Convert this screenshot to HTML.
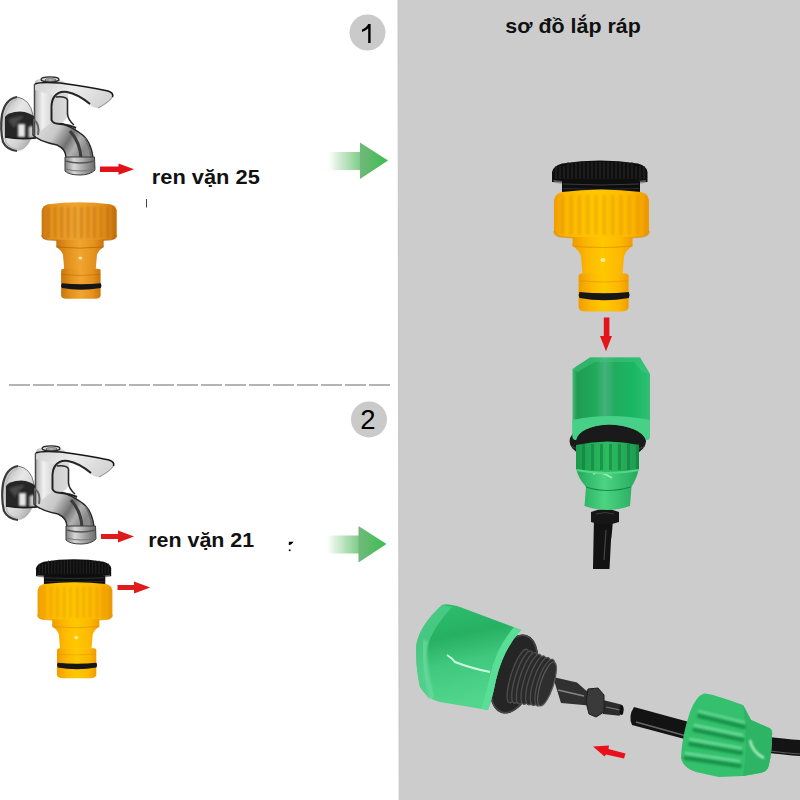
<!DOCTYPE html>
<html><head><meta charset="utf-8">
<style>
html,body{margin:0;padding:0;width:800px;height:800px;overflow:hidden;background:#fff;}
svg{position:absolute;left:0;top:0;display:block;}
text{font-family:"Liberation Sans",sans-serif;}
</style></head>
<body>
<svg width="800" height="800" viewBox="0 0 800 800">
<defs>
  <linearGradient id="gshaft" x1="0" y1="0" x2="1" y2="0">
    <stop offset="0" stop-color="#ffffff" stop-opacity="0"/>
    <stop offset="0.25" stop-color="#e4f3e4"/>
    <stop offset="1" stop-color="#7ccb86"/>
  </linearGradient>
  <linearGradient id="ghead" x1="0" y1="0" x2="1" y2="0">
    <stop offset="0" stop-color="#72b87c"/>
    <stop offset="1" stop-color="#3bbf4e"/>
  </linearGradient>
  <linearGradient id="chromeFl" x1="0" y1="0" x2="1" y2="1">
    <stop offset="0" stop-color="#a8a8a8"/><stop offset="0.4" stop-color="#e8e8e8"/><stop offset="0.7" stop-color="#d0d0d0"/><stop offset="1" stop-color="#8c8c8c"/>
  </linearGradient>
  <linearGradient id="chromePipe" x1="0" y1="0" x2="0" y2="1">
    <stop offset="0" stop-color="#1c1c1c"/><stop offset="0.45" stop-color="#3a3a3a"/><stop offset="0.62" stop-color="#b9b9b9"/><stop offset="0.85" stop-color="#5a5a5a"/><stop offset="1" stop-color="#2a2a2a"/>
  </linearGradient>
  <linearGradient id="chromeSp" x1="0" y1="0" x2="1" y2="0.4">
    <stop offset="0" stop-color="#e4e4e4"/><stop offset="0.45" stop-color="#c8c8c8"/><stop offset="0.7" stop-color="#707070"/><stop offset="0.85" stop-color="#b0b0b0"/><stop offset="1" stop-color="#8a8a8a"/>
  </linearGradient>
  <linearGradient id="chromeSt" x1="0" y1="0" x2="1" y2="0">
    <stop offset="0" stop-color="#b0b0b0"/><stop offset="0.25" stop-color="#f0f0f0"/><stop offset="0.6" stop-color="#d0d0d0"/><stop offset="1" stop-color="#dcdcdc"/>
  </linearGradient>
  <linearGradient id="chromeHd" x1="0" y1="0" x2="1" y2="0.3">
    <stop offset="0" stop-color="#d0d0d0"/><stop offset="0.5" stop-color="#ededed"/><stop offset="1" stop-color="#d6d6d6"/>
  </linearGradient>
  <linearGradient id="chromeNz" x1="0" y1="0" x2="1" y2="0">
    <stop offset="0" stop-color="#808080"/><stop offset="0.3" stop-color="#d8d8d8"/><stop offset="0.6" stop-color="#a8a8a8"/><stop offset="1" stop-color="#6a6a6a"/>
  </linearGradient>
  <filter id="b1" x="-20%" y="-20%" width="140%" height="140%"><feGaussianBlur stdDeviation="1.2"/></filter>
  <filter id="soft" x="-5%" y="-5%" width="110%" height="110%"><feGaussianBlur stdDeviation="0.45"/></filter>
  
  <linearGradient id="yanut" x1="0" y1="0" x2="1" y2="0">
    <stop offset="0" stop-color="#f09c00"/><stop offset="0.12" stop-color="#fdb800"/><stop offset="0.45" stop-color="#ffc800"/><stop offset="0.8" stop-color="#fdb800"/><stop offset="1" stop-color="#f09c00"/>
  </linearGradient>
  <linearGradient id="yaneck" x1="0" y1="0" x2="1" y2="0">
    <stop offset="0" stop-color="#f09c00"/><stop offset="0.25" stop-color="#fdb800"/><stop offset="0.5" stop-color="#ffc800"/><stop offset="0.8" stop-color="#fdb800"/><stop offset="1" stop-color="#f09c00"/>
  </linearGradient>

  <linearGradient id="oanut" x1="0" y1="0" x2="1" y2="0">
    <stop offset="0" stop-color="#c87410"/><stop offset="0.12" stop-color="#e4921c"/><stop offset="0.45" stop-color="#f0a530"/><stop offset="0.8" stop-color="#e4921c"/><stop offset="1" stop-color="#c87410"/>
  </linearGradient>
  <linearGradient id="oaneck" x1="0" y1="0" x2="1" y2="0">
    <stop offset="0" stop-color="#c87410"/><stop offset="0.25" stop-color="#e4921c"/><stop offset="0.5" stop-color="#f0a530"/><stop offset="0.8" stop-color="#e4921c"/><stop offset="1" stop-color="#c87410"/>
  </linearGradient>

  <linearGradient id="gbody" x1="0" y1="0" x2="1" y2="0">
    <stop offset="0" stop-color="#48b878"/><stop offset="0.06" stop-color="#1e9c52"/><stop offset="0.3" stop-color="#22aa5a"/><stop offset="0.42" stop-color="#44b27c"/><stop offset="0.55" stop-color="#20ac5e"/><stop offset="0.8" stop-color="#1ab864"/><stop offset="1" stop-color="#30c074"/>
  </linearGradient>
  <linearGradient id="gcone" x1="0" y1="0" x2="1" y2="0">
    <stop offset="0" stop-color="#22a85a"/><stop offset="0.45" stop-color="#4cd482"/><stop offset="1" stop-color="#24a85c"/>
  </linearGradient>
  <linearGradient id="gcol" x1="0" y1="0" x2="1" y2="0">
    <stop offset="0" stop-color="#1a9a4c"/><stop offset="0.5" stop-color="#2cbc62"/><stop offset="1" stop-color="#1c9a50"/>
  </linearGradient>

  <linearGradient id="gbig" x1="0" y1="0" x2="0.2" y2="1">
    <stop offset="0" stop-color="#30c070"/><stop offset="0.35" stop-color="#26b062"/><stop offset="0.6" stop-color="#40c87e"/><stop offset="1" stop-color="#52d68e"/>
  </linearGradient>
  <linearGradient id="thr" x1="0" y1="0" x2="0" y2="1">
    <stop offset="0" stop-color="#3a3a3a"/><stop offset="0.5" stop-color="#262626"/><stop offset="1" stop-color="#2e2e2e"/>
  </linearGradient>

</defs>

<path d="M398 0 L800 0 L800 800 L399.2 800 Z" fill="#cccccc"/>
<path d="M398 0 L399.2 800" stroke="#c4c4c4" stroke-width="1"/>
<line x1="9" y1="385" x2="393" y2="385" stroke="#9c9c9c" stroke-width="1.5" stroke-dasharray="21 3"/>
<circle cx="367.5" cy="32.5" r="18" fill="#cacaca"/>
<path d="M368.2 24 L370.6 24 L370.6 43 L368.2 43 L368.2 28.2 Q366 30.8 362 32 L362 29.4 Q366.5 27.8 368.2 24 Z" fill="#000"/>
<circle cx="369" cy="419.4" r="18" fill="#cacaca"/>
<text x="367.8" y="429" font-size="27.5" text-anchor="middle" fill="#000">2</text>
<text x="505.3" y="33" font-size="20.5" font-weight="bold" fill="#111" textLength="135.5" lengthAdjust="spacingAndGlyphs">sơ đồ lắp ráp</text>
<text x="151.8" y="184" font-size="21" font-weight="bold" fill="#111" textLength="108" lengthAdjust="spacingAndGlyphs">ren vặn 25</text>
<line x1="146.5" y1="199" x2="146.5" y2="207.5" stroke="#444" stroke-width="1"/>
<path d="M288.8 541.8 L293.6 541.8 Q292 544 290 545 L288.8 545 Z" fill="#000"/>
<circle cx="289.7" cy="550.2" r="1" fill="#111"/>
<text x="148.2" y="547" font-size="21" font-weight="bold" fill="#111" textLength="106" lengthAdjust="spacingAndGlyphs">ren vặn 21</text>

<g id="faucet" filter="url(#soft)">
  <ellipse cx="17" cy="124" rx="17" ry="27" fill="url(#chromeFl)"/>
  <path d="M17 97 Q5 99 2 115 Q0 130 3 142 Q7 150 17 151" stroke="#3a3a3a" stroke-width="2.2" fill="none"/>
  <path d="M17 99.5 Q8 102 5 115 Q3 130 6 142 Q9 148 17 149" stroke="#bdbdbd" stroke-width="1.5" fill="none"/>
  <path d="M17 97 Q30 99 33 115" stroke="#777" stroke-width="1" fill="none"/>
  <path d="M5 117 Q8 112 20 111.5 Q30 112 36 118 L36 138 Q20 140 5 137 Z" fill="#262626"/>
  <path d="M8 120 Q14 116 24 116 Q18 121 14 128 Z" fill="#4a4a4a" filter="url(#b1)"/>
  <path d="M18 124 L25 124 L25 137 L18 137 Z" fill="#e6e6e6" filter="url(#b1)"/>
  <path d="M28.5 127 L35 125 L35 137.5 L28.5 138 Z" fill="#c9c9c9" filter="url(#b1)"/>
  <path d="M5 137 Q20 140 36 138" stroke="#1e1e1e" stroke-width="1.5" fill="none"/>
  <path d="M33 118 L33 135 Q38 141 57 145 Q66 149 66 158 L93 158 Q91 140 80 133 Q70 126 60 123 L52 120 Z" fill="url(#chromeSp)" stroke="#262626" stroke-width="1.4"/>
  <path d="M70 131 Q80 142 81 158" stroke="#3a3a3a" stroke-width="3" fill="none"/>
  <path d="M85 138 Q90 148 91 158" stroke="#6a6a6a" stroke-width="1.5" fill="none"/>
  <path d="M34.5 84 Q35 79 41 79 L56 79 Q62 80 68 84 L68 114 Q67 121 60 123 L52 122 L34 136 Z" fill="url(#chromeSt)"/>
  <path d="M34.5 84 L34.5 136" stroke="#4a4a4a" stroke-width="1.5" fill="none"/>
  <path d="M34 120 Q40 124 38 135" stroke="#666" stroke-width="2" fill="none"/>
  <path d="M55 96 Q51 100 51.5 110 L51.5 120 Q53 124 60 124 Q70 125 76 128" stroke="#222" stroke-width="2" fill="none"/>
  <path d="M56 97 Q66 96 67.5 100 L67.5 114 Q68 120 74 125" stroke="#2a2a2a" stroke-width="1.6" fill="none"/>
  <path d="M35 84 Q40 81 60 83 Q90 87 108 91 Q114 93 112.5 97 Q108 103 98 108 Q92 108 86 102 Q76 95 64 93 Q58 93 55 96 Q45 93 35 90 Z" fill="url(#chromeHd)"/>
  <path d="M35 84 Q40 81.5 60 83 Q90 87 108 91 Q114 93 112.5 97" stroke="#151515" stroke-width="1.6" fill="none"/>
  <path d="M112.5 97 Q108 103 98 108" stroke="#9a9a9a" stroke-width="1.2" fill="none"/>
  <path d="M54 97 Q58 91 67 92 Q78 94 90 104" stroke="#252525" stroke-width="2" fill="none"/>
  <ellipse cx="50" cy="79.4" rx="9" ry="2.5" fill="#dcdcdc" stroke="#2a2a2a" stroke-width="1.3"/>
  <ellipse cx="50.5" cy="80" rx="5.5" ry="1.2" fill="none" stroke="#555" stroke-width="1"/>
  <path d="M65 157 L94.5 157 L95 170 Q90 175 80 175 Q69 175 65 171 Z" fill="url(#chromeNz)" stroke="#3a3a3a" stroke-width="1"/>
  <path d="M65.5 161 Q80 165 94.5 161" stroke="#555" stroke-width="1.4" fill="none"/>
  <path d="M65.5 169 Q80 173 95 169" stroke="#777" stroke-width="1" fill="none"/>
</g>
<use href="#faucet" transform="translate(1,369)"/>
<g id="adTR"><path d="M552 182 L552 172 Q553 166 562 163.5 Q600 157.5 638 163.5 Q647 166 647.5 172 L647.5 182 Q600 185 552 182 Z" fill="#0e0e0e"/>
<line x1="556" y1="166" x2="556" y2="179" stroke="#2a2a2a" stroke-width="1"/><line x1="560" y1="166" x2="560" y2="179" stroke="#2a2a2a" stroke-width="1"/><line x1="564" y1="166" x2="564" y2="179" stroke="#2a2a2a" stroke-width="1"/><line x1="568" y1="162" x2="568" y2="179" stroke="#2a2a2a" stroke-width="1"/><line x1="572" y1="162" x2="572" y2="179" stroke="#2a2a2a" stroke-width="1"/><line x1="576" y1="162" x2="576" y2="179" stroke="#2a2a2a" stroke-width="1"/><line x1="580" y1="162" x2="580" y2="179" stroke="#2a2a2a" stroke-width="1"/><line x1="584" y1="162" x2="584" y2="179" stroke="#2a2a2a" stroke-width="1"/><line x1="588" y1="162" x2="588" y2="179" stroke="#2a2a2a" stroke-width="1"/><line x1="592" y1="162" x2="592" y2="179" stroke="#2a2a2a" stroke-width="1"/><line x1="596" y1="162" x2="596" y2="179" stroke="#2a2a2a" stroke-width="1"/><line x1="600" y1="162" x2="600" y2="179" stroke="#2a2a2a" stroke-width="1"/><line x1="604" y1="162" x2="604" y2="179" stroke="#2a2a2a" stroke-width="1"/><line x1="608" y1="162" x2="608" y2="179" stroke="#2a2a2a" stroke-width="1"/><line x1="612" y1="162" x2="612" y2="179" stroke="#2a2a2a" stroke-width="1"/><line x1="616" y1="162" x2="616" y2="179" stroke="#2a2a2a" stroke-width="1"/><line x1="620" y1="162" x2="620" y2="179" stroke="#2a2a2a" stroke-width="1"/><line x1="624" y1="162" x2="624" y2="179" stroke="#2a2a2a" stroke-width="1"/><line x1="628" y1="162" x2="628" y2="179" stroke="#2a2a2a" stroke-width="1"/><line x1="632" y1="162" x2="632" y2="179" stroke="#2a2a2a" stroke-width="1"/><line x1="636" y1="166" x2="636" y2="179" stroke="#2a2a2a" stroke-width="1"/><line x1="640" y1="166" x2="640" y2="179" stroke="#2a2a2a" stroke-width="1"/><line x1="644" y1="166" x2="644" y2="179" stroke="#2a2a2a" stroke-width="1"/>
<path d="M553 180 L563 181 L563 184 L555 183 Z" fill="#8a8a8a" opacity="0.6"/>
<path d="M646.5 180 L637 181 L637 184 L645 183 Z" fill="#8a8a8a" opacity="0.6"/>
<rect x="562" y="181" width="78" height="12" fill="#0e0e0e"/>
<path d="M563 184 Q601 186 639 184" stroke="#3a3a3a" stroke-width="1" fill="none"/>
<path d="M563 188.5 Q601 190.5 639 188.5" stroke="#2e2e2e" stroke-width="1" fill="none"/>
<path d="M554 200 Q555 194 562 192 Q601 187 641 192 Q648 194 649 200 L649 231 Q649 236 641 237 Q601 240 562 237 Q554 236 554 231 Z" fill="url(#yanut)"/>
<g filter="url(#b1)"><rect x="561.0" y="195" width="3.6" height="40" fill="#d88a00" opacity="0.32"/><rect x="569.3" y="195" width="3.6" height="40" fill="#d88a00" opacity="0.32"/><rect x="577.6" y="195" width="3.6" height="40" fill="#d88a00" opacity="0.32"/><rect x="585.9" y="195" width="3.6" height="40" fill="#d88a00" opacity="0.32"/><rect x="594.2" y="195" width="3.6" height="40" fill="#d88a00" opacity="0.32"/><rect x="602.5" y="195" width="3.6" height="40" fill="#d88a00" opacity="0.32"/><rect x="610.8" y="195" width="3.6" height="40" fill="#d88a00" opacity="0.32"/><rect x="619.1" y="195" width="3.6" height="40" fill="#d88a00" opacity="0.32"/><rect x="627.4" y="195" width="3.6" height="40" fill="#d88a00" opacity="0.32"/><rect x="635.7" y="195" width="3.6" height="40" fill="#d88a00" opacity="0.32"/><rect x="644.0" y="195" width="3.6" height="40" fill="#d88a00" opacity="0.32"/></g>
<path d="M554 231 Q554 236 562 237 Q601 240 641 237 Q649 236 649 231" stroke="#d88a00" stroke-width="1.5" fill="none" opacity="0.6"/>
<path d="M572.5 237 L632.5 237 L632.5 246 Q626 250 624 256 L622.5 274 L582.5 274 L581 256 Q579 250 572.5 246 Z" fill="url(#yaneck)"/>
<path d="M572.5 246 Q602 249 632.5 246" stroke="#d88a00" stroke-width="1.2" fill="none" opacity="0.6"/>
<ellipse cx="603" cy="260" rx="2.5" ry="2" fill="#fff3c0" opacity="0.8"/>
<path d="M578.6 276 Q578.6 273.5 582 273.5 L625 273.5 Q628.6 273.5 628.6 276 L628.6 307 Q628.6 311 622 311.5 L585 311.5 Q578.6 311 578.6 307 Z" fill="url(#yaneck)"/>
<path d="M579 281 Q603 283 628 281" stroke="#d88a00" stroke-width="1" fill="none" opacity="0.5"/>
<path d="M579.5 292 Q604 294.5 628.8 292 Q630.5 295 628.8 298 Q604 302.5 579.5 298 Q577.8 295 579.5 292 Z" fill="#161616"/></g>
<use href="#adTR" transform="translate(-398.4,433) scale(0.787)"/>
<g transform="translate(-396,52.6) scale(0.79)"><path d="M554 200 Q555 194 562 192 Q601 187 641 192 Q648 194 649 200 L649 231 Q649 236 641 237 Q601 240 562 237 Q554 236 554 231 Z" fill="url(#oanut)"/>
<g filter="url(#b1)"><rect x="561.0" y="195" width="3.6" height="40" fill="#a85800" opacity="0.32"/><rect x="569.3" y="195" width="3.6" height="40" fill="#a85800" opacity="0.32"/><rect x="577.6" y="195" width="3.6" height="40" fill="#a85800" opacity="0.32"/><rect x="585.9" y="195" width="3.6" height="40" fill="#a85800" opacity="0.32"/><rect x="594.2" y="195" width="3.6" height="40" fill="#a85800" opacity="0.32"/><rect x="602.5" y="195" width="3.6" height="40" fill="#a85800" opacity="0.32"/><rect x="610.8" y="195" width="3.6" height="40" fill="#a85800" opacity="0.32"/><rect x="619.1" y="195" width="3.6" height="40" fill="#a85800" opacity="0.32"/><rect x="627.4" y="195" width="3.6" height="40" fill="#a85800" opacity="0.32"/><rect x="635.7" y="195" width="3.6" height="40" fill="#a85800" opacity="0.32"/><rect x="644.0" y="195" width="3.6" height="40" fill="#a85800" opacity="0.32"/></g>
<path d="M554 231 Q554 236 562 237 Q601 240 641 237 Q649 236 649 231" stroke="#a85800" stroke-width="1.5" fill="none" opacity="0.6"/>
<path d="M572.5 237 L632.5 237 L632.5 246 Q626 250 624 256 L622.5 274 L582.5 274 L581 256 Q579 250 572.5 246 Z" fill="url(#oaneck)"/>
<path d="M572.5 246 Q602 249 632.5 246" stroke="#a85800" stroke-width="1.2" fill="none" opacity="0.6"/>
<ellipse cx="603" cy="260" rx="2.5" ry="2" fill="#fff3c0" opacity="0.8"/>
<path d="M578.6 276 Q578.6 273.5 582 273.5 L625 273.5 Q628.6 273.5 628.6 276 L628.6 307 Q628.6 311 622 311.5 L585 311.5 Q578.6 311 578.6 307 Z" fill="url(#oaneck)"/>
<path d="M579 281 Q603 283 628 281" stroke="#a85800" stroke-width="1" fill="none" opacity="0.5"/>
<path d="M579.5 292 Q604 294.5 628.8 292 Q630.5 295 628.8 298 Q604 302.5 579.5 298 Q577.8 295 579.5 292 Z" fill="#161616"/></g>
<path d="M594 518 L613 518 Q612 535 611 540 L609.5 569 L593 569 Q593.5 540 594 518 Z" fill="#121212"/>
<path d="M606 530 L604 560" stroke="#444" stroke-width="1.2"/>
<path d="M591 512 Q605 506 619 512 L619 522 Q605 527 591 522 Z" fill="#161616"/>
<path d="M596 514 Q605 511 614 514" stroke="#3a3a3a" stroke-width="1" fill="none"/>
<ellipse cx="607.8" cy="441.3" rx="38.2" ry="18.8" fill="#1a1a1a"/>
<path d="M571 446 Q607.8 466 645 446" stroke="#444" stroke-width="1" fill="none"/>
<path d="M576 468 Q578 478 586 487 L584.5 506 Q607 514 630 506 L631.5 487 Q637 478 639 468 Z" fill="url(#gcone)"/>
<path d="M586 487 Q607 494 631 487" stroke="#168a40" stroke-width="1.2" fill="none"/>
<path d="M593 474 Q600 470 612 478" stroke="#a6f2b4" stroke-width="1.6" fill="none" opacity="0.9"/>
<path d="M576 445 Q607.8 438 639 445 L639 470 Q607.8 476 576 470 Z" fill="url(#gcol)"/>
<rect x="582" y="444" width="3" height="26" fill="#117a38" opacity="0.55"/><rect x="591" y="444" width="3" height="26" fill="#117a38" opacity="0.55"/><rect x="600" y="444" width="3" height="26" fill="#117a38" opacity="0.55"/><rect x="609" y="444" width="3" height="26" fill="#117a38" opacity="0.55"/><rect x="618" y="444" width="3" height="26" fill="#117a38" opacity="0.55"/><rect x="627" y="444" width="3" height="26" fill="#117a38" opacity="0.55"/><rect x="636" y="444" width="3" height="26" fill="#117a38" opacity="0.55"/>
<path d="M576 470 Q607.8 476 639 470" stroke="#52d888" stroke-width="2" fill="none"/>
<path d="M572.5 369 L590 357.5 L640 357.5 L650 374 L650 436 Q650 440 646 440 Q640 426 609 424.5 Q580 426 576 440 Q572.5 440 572.5 436 Z" fill="url(#gbody)"/>
<path d="M572.5 369 L590 357.5 L640 357.5 L650 374 L642 372 L634 362 L594 362 L578 372 Z" fill="#3ec47e" opacity="0.55"/>
<path d="M572.5 420 Q609 412 650 420 L650 436 Q650 440 646 440 Q640 426 609 424.5 Q580 426 576 440 Q572.5 440 572.5 436 Z" fill="#48d088"/>
<path d="M553 677 L577 682.5 L586 690.5 L594 692 L594 706 L578 704.6 L561 703 Z" fill="#303030"/>
<path d="M558 690 L584 696" stroke="#858585" stroke-width="1.6"/>
<path d="M603 700 L621 704.5 Q624 707 623.5 710 L619.5 715.8 L603 714 Z" fill="#2c2c2c"/>
<path d="M606 707 L620 710" stroke="#777" stroke-width="1.2"/>
<ellipse cx="621.5" cy="710" rx="2" ry="5" fill="#0e0e0e"/>
<path d="M588 689 L598 688 L604 695 L604 712 L596 717 L589 714 L586 702 Z" fill="#3a3a3a" stroke="#1e1e1e" stroke-width="1"/>
<ellipse cx="514" cy="674" rx="22" ry="41" transform="rotate(18 514 674)" fill="#252525"/>
<ellipse cx="514" cy="674" rx="21" ry="40" transform="rotate(18 514 674)" fill="none" stroke="#474747" stroke-width="1.5"/>
<ellipse cx="518.0" cy="676.0" rx="7" ry="28.0" transform="rotate(18 518.0 676.0)" fill="#2a2a2a" stroke="#4e4e4e" stroke-width="1.3"/>
<ellipse cx="522.5" cy="677.1" rx="7" ry="27.4" transform="rotate(18 522.5 677.1)" fill="#2a2a2a" stroke="#4e4e4e" stroke-width="1.3"/>
<ellipse cx="527.0" cy="678.2" rx="7" ry="26.8" transform="rotate(18 527.0 678.2)" fill="#2a2a2a" stroke="#4e4e4e" stroke-width="1.3"/>
<ellipse cx="531.5" cy="679.3" rx="7" ry="26.2" transform="rotate(18 531.5 679.3)" fill="#2a2a2a" stroke="#4e4e4e" stroke-width="1.3"/>
<ellipse cx="536.0" cy="680.4" rx="7" ry="25.6" transform="rotate(18 536.0 680.4)" fill="#2a2a2a" stroke="#4e4e4e" stroke-width="1.3"/>
<ellipse cx="540.5" cy="681.5" rx="7" ry="25.0" transform="rotate(18 540.5 681.5)" fill="#2a2a2a" stroke="#4e4e4e" stroke-width="1.3"/>
<ellipse cx="545.0" cy="682.6" rx="7" ry="24.4" transform="rotate(18 545.0 682.6)" fill="#2a2a2a" stroke="#4e4e4e" stroke-width="1.3"/>
<ellipse cx="547" cy="684" rx="6.5" ry="23" transform="rotate(18 547 684)" fill="#2e2e2e" stroke="#5a5a5a" stroke-width="1.2"/>
<path d="M442 605 Q447 603 460 607 L521 630 Q503 650 496 680 Q492 700 488 710 L440 702 Q428 700 420 687 Q415 665 416.5 644 Q420 625 442 605 Z" fill="url(#gbig)"/>
<path d="M521 630 Q503 650 496 680 Q492 700 488 710 L481 709 Q486 695 490 676 Q496 648 514 627 Z" fill="#5ade96"/>
<path d="M416.5 644 Q420 625 442 605 L452 607 Q432 628 427 648 Q424 668 430 700 L420 687 Q415 665 416.5 644 Z" fill="#52d08e" opacity="0.7"/>
<path d="M447 655 Q452 658 455 662 Q470 668 490 672" stroke="#d8ffe4" stroke-width="2" fill="none" opacity="0.9"/>
<path d="M425 640 Q423 665 432 698" stroke="#7ee0aa" stroke-width="5" fill="none" opacity="0.5" filter="url(#b1)"/>
<path d="M634 707 L700 725 L692 741 L632 725 Q628 716 634 707 Z" fill="#131313"/>
<path d="M636 722 L690 737" stroke="#666" stroke-width="1.5"/>
<path d="M760 736 Q785 739 800 740 L800 756 Q785 755 760 752 Z" fill="#141414"/>
<path d="M770 751 Q785 753 800 754" stroke="#5a5a5a" stroke-width="1.2"/>
<path d="M704 693.5 Q710 693 743 705 L751 720 L768 727.5 Q773 729 772 735 Q772 755 768 768 Q766 772 760 773 L743 776 L718.7 777 L696 772 Q683 768 681 758 Q682 735 690 712 Q696 696 704 693.5 Z" fill="#34c06c"/>
<path d="M743 705 L751 720 L768 727.5 Q773 729 772 735 Q772 755 768 768 Q766 772 760 773 L743 776 Q749 740 743 705 Z" fill="#2db464"/>
<g filter="url(#b1)"><path d="M699.0 716 L744.0 727" stroke="#17924a" stroke-width="4" stroke-linecap="round"/><path d="M699.0 711 L744.0 722" stroke="#86e6ae" stroke-width="1.8" stroke-linecap="round" opacity="0.85"/><path d="M694.5 730 L742.5 740" stroke="#17924a" stroke-width="4" stroke-linecap="round"/><path d="M694.5 725 L742.5 735" stroke="#86e6ae" stroke-width="1.8" stroke-linecap="round" opacity="0.85"/><path d="M690.0 744 L741.0 753" stroke="#17924a" stroke-width="4" stroke-linecap="round"/><path d="M690.0 739 L741.0 748" stroke="#86e6ae" stroke-width="1.8" stroke-linecap="round" opacity="0.85"/><path d="M685.5 758 L739.5 766" stroke="#17924a" stroke-width="4" stroke-linecap="round"/><path d="M685.5 753 L739.5 761" stroke="#86e6ae" stroke-width="1.8" stroke-linecap="round" opacity="0.85"/></g>
<path d="M750 740 Q752 752 764 758" stroke="#c0f6d2" stroke-width="2.2" fill="none" filter="url(#b1)"/>
<path d="M593 746.6 L609 745.5 L608.5 749 L625.5 753.5 L624 758.5 L606 754.5 L604.5 756.5 Z" fill="#e8101a"/>

<g id="garrow1">
  <rect x="326" y="152" width="35" height="18" fill="url(#gshaft)"/>
  <path d="M360 142.4 L388 160.5 L360 179 Z" fill="url(#ghead)"/>
</g>
<use href="#garrow1" transform="translate(-1.5,383.5)"/>
<path d="M100 166.5 L118.5 166.5 L118.5 163.4 L134.1 169.3 L118.5 174.7 L118.5 172 L100 172 Z" fill="#e3121a"/>
<path d="M101 534 L118 534 L118 530.5 L134 536.5 L118 542.5 L118 539 L101 539 Z" fill="#e01b1b"/>
<path d="M117.5 585 L134 585 L134 581.5 L150.3 587.5 L134 593.5 L134 590 L117.5 590 Z" fill="#e01b1b"/>
<path d="M603.8 317.5 L609.4 317.5 L609.4 336 L612 336 L606 351.3 L600 336 L603.8 336 Z" fill="#e3141a"/>
</svg>
</body></html>
